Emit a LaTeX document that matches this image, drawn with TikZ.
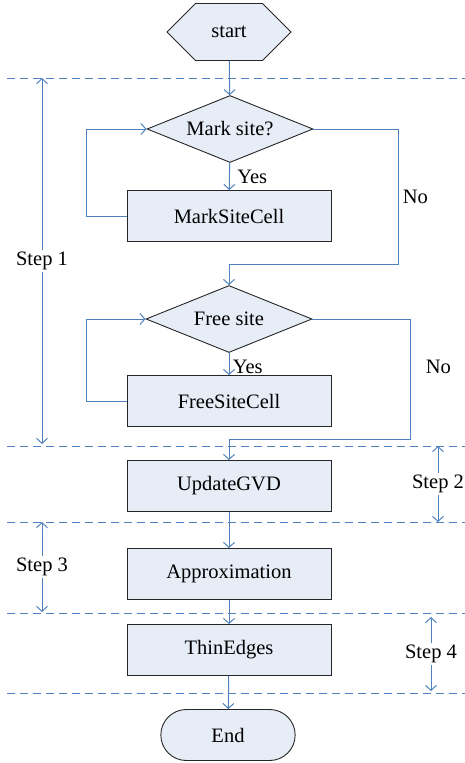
\documentclass[tikz,border=0pt]{standalone}
\usepackage{fontspec}
\setmainfont{Liberation Serif}
\usepackage{tikz}
\usetikzlibrary{shapes.geometric,shapes.misc,shapes.symbols,arrows.meta}
\definecolor{flowblue}{RGB}{79,129,189}
\definecolor{boxfill}{RGB}{230,237,247}

\begin{document}
\begin{tikzpicture}[x=1pt,y=-1pt,
  font=\fontsize{20.5}{24}\selectfont,
  proc/.style={draw=black!85, fill=boxfill, line width=0.9pt, minimum width=204pt, minimum height=51pt},
  decision/.style={diamond, aspect=2.48, draw=black!85, fill=boxfill, line width=0.9pt, minimum width=166pt, minimum height=67pt, inner sep=0pt},
  flow/.style={draw=flowblue, line width=1pt, -{Straight Barb[length=5pt,width=11pt]}},
  stepline/.style={draw=flowblue, line width=1pt, dash pattern=on 8pt off 5pt},
  steparrow/.style={draw=flowblue, line width=1pt, {Straight Barb[length=5pt,width=11pt]}-{Straight Barb[length=5pt,width=11pt]}},
  steplabel/.style={fill=white, inner sep=2pt}]
  \useasboundingbox (0,0) rectangle (465,763);

  % stages
  \foreach \y in {78,446,522,613,693}
    \draw[stepline] (7,\y) -- (465,\y);

  \foreach \x/\a/\b/\n in {42/78/444/1, 438/446/522/2, 42/522/612/3, 431/617/691/4}
    \draw[steparrow] (\x,\a) -- node[steplabel] {Step \n} (\x,\b);

  % nodes
  \node[signal, signal to=west and east, signal pointer angle=90, draw=black!85, fill=boxfill,
        line width=0.9pt, minimum width=124pt, minimum height=57pt, inner sep=0pt] (start) at (229,32) {start};
  \node[decision] (mark) at (230,129) {Mark site?};
  \node[proc] (msc) at (229,216) {MarkSiteCell};
  \node[decision] (free) at (229,319) {Free site};
  \node[proc] (fsc) at (229,401) {FreeSiteCell};
  \node[proc] (gvd) at (229,486) {UpdateGVD};
  \node[proc] (approx) at (229,574) {Approximation};
  \node[proc] (thin) at (229,650) {ThinEdges};
  \node[rounded rectangle, draw=black!85, fill=boxfill, line width=0.9pt,
        minimum width=141pt, minimum height=51pt] (stop) at (228,735) {End};

  \coordinate (nobend1) at (398,264);
  \coordinate (nobend2) at (410,439);

  % flow
  \draw[flow] (start) -- (mark);
  \draw[flow] (mark) -- node[right, xshift=4pt] {Yes} (msc);
  \draw[flow] (msc.west) -- ++(-40,0) |- (mark.west);
  \draw[flow] (mark.east) -| node[pos=0.75, right, xshift=1pt] {No} (nobend1) -| (free.north);
  \draw[flow] (free) -- node[right, xshift=0pt, yshift=-3pt] {Yes} (fsc);
  \draw[flow] (fsc.west) -- ++(-40,0) |- (free.west);
  \draw[flow] (free.east) -| node[pos=0.7, right, xshift=12pt] {No} (nobend2) -| (gvd.north);
  \draw[flow] (gvd) -- (approx);
  \draw[flow] (approx) -- (thin);
  \draw[flow] (thin) -- (stop);
\end{tikzpicture}
\end{document}
